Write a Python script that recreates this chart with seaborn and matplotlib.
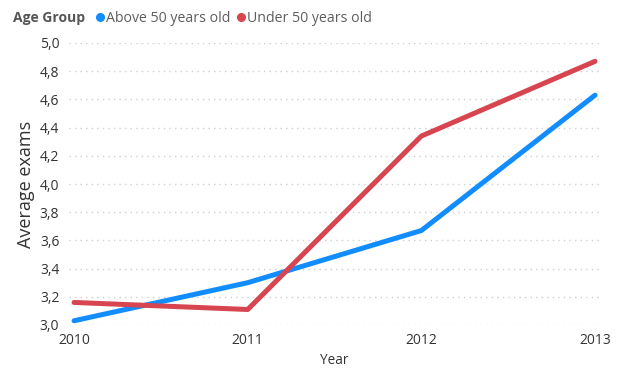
import matplotlib
matplotlib.use("Agg")
import matplotlib.pyplot as plt
from matplotlib.lines import Line2D
from matplotlib.ticker import FuncFormatter, MultipleLocator
import seaborn as sns
import pandas as pd

years = [2010, 2011, 2012, 2013]
above_50 = [3.03, 3.30, 3.67, 4.63]
under_50 = [3.16, 3.11, 4.34, 4.87]
groups = ["Above 50 years old", "Under 50 years old"]
colors = ["#118DFF", "#D64550"]

df = pd.DataFrame({
    "Year": years * 2,
    "Average exams": above_50 + under_50,
    "Age Group": [groups[0]] * len(years) + [groups[1]] * len(years),
})

sns.set_theme(style="white")
plt.rcParams["font.family"] = ["Open Sans", "DejaVu Sans"]

fig = plt.figure(figsize=(6.25, 3.72), dpi=100)
ax = fig.add_axes([69 / 625, 1 - 325 / 372, 530 / 625, 282 / 372])

sns.lineplot(data=df, x="Year", y="Average exams", hue="Age Group",
             palette=dict(zip(groups, colors)), linewidth=3.6,
             legend=False, ax=ax, solid_capstyle="round")

ax.set_xlim(2009.971, 2013.023)
ax.set_ylim(3.0, 5.0)
ax.set_xticks(years)
ax.xaxis.set_major_formatter(FuncFormatter(lambda v, p: f"{int(round(v))}"))
ax.yaxis.set_major_locator(MultipleLocator(0.2))
ax.yaxis.set_major_formatter(FuncFormatter(lambda v, p: f"{v:.1f}".replace(".", ",")))

ax.grid(axis="y", color="#CFCFCF", linestyle=(0, (1, 3)), linewidth=1)
ax.grid(axis="x", visible=False)
ax.set_axisbelow(True)
for s in ax.spines.values():
    s.set_visible(False)

ax.tick_params(axis="both", length=0, labelsize=10, colors="#333333")
ax.tick_params(axis="y", pad=7)
ax.tick_params(axis="x", pad=6)
ax.set_xlabel("Year", fontsize=9.8, color="#333333", labelpad=3)
ax.set_ylabel("Average exams", fontsize=13, color="#333333", labelpad=3)

fig.text(13 / 625, 1 - 18 / 372, "Age Group", fontsize=10, fontweight="bold",
         color="#555555", va="center", ha="left")
handles = [Line2D([], [], marker="o", linestyle="", color=c, markersize=5.5) for c in colors]
fig.legend(handles, groups, loc="center left", bbox_to_anchor=(93 / 625, 1 - 18 / 372),
           ncol=2, frameon=False, fontsize=10.2, labelcolor="#605E5C",
           handletextpad=-0.1, columnspacing=0.3, handlelength=1.0, borderaxespad=0,
           borderpad=0)

fig.savefig("out.png", dpi=100)
